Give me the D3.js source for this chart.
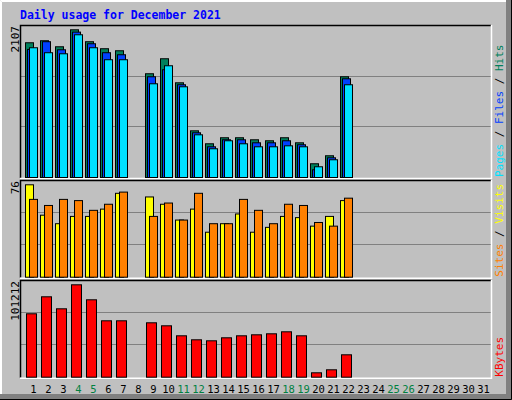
<!DOCTYPE html>
<html><head><meta charset="utf-8">
<script src="https://cdn.jsdelivr.net/npm/d3@7"></script>
<style>body{margin:0;background:#fff}svg{display:block}</style></head>
<body><svg id="c" width="512" height="400"></svg>
<script>
const days = d3.range(1,32);
const weekend = [4,5,11,12,18,19,25,26];
const hits  = [1922,1951,1865,2107,1937,1837,1808,0,1480,1694,1351,666,481,567,567,538,524,567,495,196,310,1437,0,0,0,0,0,0,0,0,0];
const files = [1827,1937,1822,2074,1908,1780,1751,0,1437,1537,1323,638,438,538,538,495,495,524,467,110,281,1408,0,0,0,0,0,0,0,0,0];
const pages = [1851,1780,1765,2036,1851,1680,1680,0,1337,1594,1294,609,410,524,481,438,438,452,438,153,253,1323,0,0,0,0,0,0,0,0,0];
const visits= [76,51,44,50,50,56,69,0,66,60,47,56,37,44,52,37,41,50,49,42,50,63,0,0,0,0,0,0,0,0,0];
const sites = [64,59,64,63,55,60,70,0,50,61,47,69,44,44,64,55,44,60,59,45,42,65,0,0,0,0,0,0,0,0,0];
const kbytes= [69450,88070,74925,101212,84784,61780,61780,0,59590,56304,45350,40968,39873,43159,45350,46445,47540,49731,45350,4820,8106,24537,0,0,0,0,0,0,0,0,0];
const maxLabels = ["2107","76","101212"];

const svg = d3.select("#c");
const font = "'DejaVu Sans Mono', monospace";
svg.append("rect").attr("width",512).attr("height",400).attr("fill","#c0c0c0");
// bevel
svg.append("path").attr("d","M0.5,399.5V0.5H511.5").attr("stroke","#fff").attr("stroke-width",1).attr("fill","none");
svg.append("path").attr("d","M1.5,398.5V1.5H510.5").attr("stroke","#fff").attr("fill","none");
svg.append("rect").attr("x",506).attr("y",0).attr("width",6).attr("height",400).attr("fill","#808080");
svg.append("rect").attr("x",0).attr("y",394).attr("width",512).attr("height",6).attr("fill","#808080");
svg.append("path").attr("d","M0,399.5H511.5V0").attr("stroke","#000").attr("fill","none");

svg.append("text").attr("x",20).attr("y",19).attr("fill","#0000ff").attr("font-family",font)
  .attr("font-weight","bold").attr("font-size",11.5).text("Daily usage for December 2021");

const x = d3.scaleBand().domain(days).range([24,489]).paddingInner(0);
const x0 = d => 25 + 15*(d-1);

const panels = [
 {top:25, bottom:177, ymax:29.3, max:2107, series:[[hits,"#00805c",0,8],[files,"#0040ff",2,10],[pages,"#00e0ff",4,12]],
  labels:[["Pages","#00e0ff"],[" / ","#000"],["Files","#0040ff"],[" / ","#000"],["Hits","#00805c"]]},
 {top:180, bottom:276.7, ymax:184.3, max:76, series:[[visits,"#ffff00",0,8],[sites,"#ff8000",4,12]],
  labels:[["Sites","#ff8000"],[" / ","#000"],["Visits","#ffff00"]]},
 {top:280, bottom:376.7, ymax:284.3, max:101212, series:[[kbytes,"#ff0000",1,11]],
  labels:[["KBytes","#ff0000"]]}
];
const L=20, R=491;
panels.forEach((p,i)=>{
  const y = d3.scaleLinear().domain([0,p.max]).range([p.bottom,p.ymax]);
  const h = p.bottom-p.top;
  [1/3,2/3].forEach(f=>{
    const gy = Math.round(p.top + h*f)+0.5;
    svg.append("line").attr("x1",L).attr("x2",R).attr("y1",gy).attr("y2",gy).attr("stroke","#808080").attr("stroke-width",1);
  });
  // frame
  svg.append("path").attr("d",`M${L+0.5},${p.bottom+1}V${p.top+0.5}H${R}`).attr("stroke","#000").attr("stroke-width",1.5).attr("fill","none");
  svg.append("path").attr("d",`M${L},${p.bottom+1.5}H${R+0.5}V${p.top}`).attr("stroke","#fff").attr("stroke-width",1.5).attr("fill","none");
  p.series.forEach(([vals,col,a,b])=>{
    svg.append("g").selectAll("rect").data(days.filter(d=>vals[d-1]>0)).join("rect")
      .attr("x",d=>x0(d)+a+0.5).attr("width",b-a)
      .attr("y",d=>y(vals[d-1])+0.5).attr("height",d=>p.bottom-y(vals[d-1]))
      .attr("fill",col).attr("stroke","#000").attr("stroke-width",1);
  });
  svg.append("text").attr("transform",`translate(19,${p.top+1}) rotate(-90)`).attr("text-anchor","end")
    .attr("font-family",font).attr("font-size",11).attr("fill","#000").text(maxLabels[i]);
  const t = svg.append("text").attr("transform",`translate(503,${p.bottom}) rotate(-90)`)
    .attr("font-family",font).attr("font-size",11);
  p.labels.forEach(([s,c])=>t.append("tspan").attr("fill",c).attr("xml:space","preserve").text(s));
});
svg.append("g").selectAll("text").data(days).join("text")
  .attr("x",d=>x(d)+x.bandwidth()/2+2).attr("y",393).attr("text-anchor","middle")
  .attr("font-family",font).attr("font-size",10.5)
  .attr("fill",d=>weekend.includes(d)?"#008040":"#000").text(d=>d);
</script></body></html>
